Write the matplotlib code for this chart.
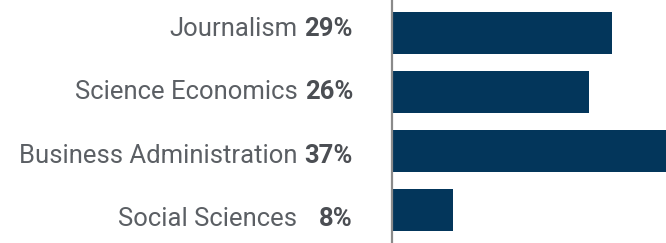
import matplotlib
matplotlib.use("Agg")
import matplotlib.pyplot as plt

categories = ["Journalism", "Science Economics", "Business Administration", "Social Sciences"]
values = [29, 26, 37, 8]

W, H = 666, 243
fig = plt.figure(figsize=(W / 100, H / 100), dpi=100)
ax = fig.add_axes([392 / W, 0, (W - 392) / W, 1])

ypos = list(range(len(categories)))
ax.barh(ypos, values, height=0.712, color="#03365b", zorder=2)
ax.set_xlim(0, 36.1)
ax.set_ylim(3.56, -0.56)
ax.set_xticks([])
ax.set_yticks([])
for s in ["top", "right", "bottom"]:
    ax.spines[s].set_visible(False)
ax.spines["left"].set_color("#8a8a8a")
ax.spines["left"].set_linewidth(1.6)

fs = 18.45
baselines = [36, 99.3, 162.7, 226]
for i, (c, v) in enumerate(zip(categories, values)):
    yb = 1 - baselines[i] / H
    fig.text(353 / W, yb, f"{v}%", ha="right", va="baseline", fontsize=fs,
             fontweight="bold", family="Roboto", color="#4b4e53")
    fig.text(297.5 / W, yb, c, ha="right", va="baseline", fontsize=fs,
             family="Roboto", color="#5b5f64")

fig.savefig("out.png", dpi=100)
